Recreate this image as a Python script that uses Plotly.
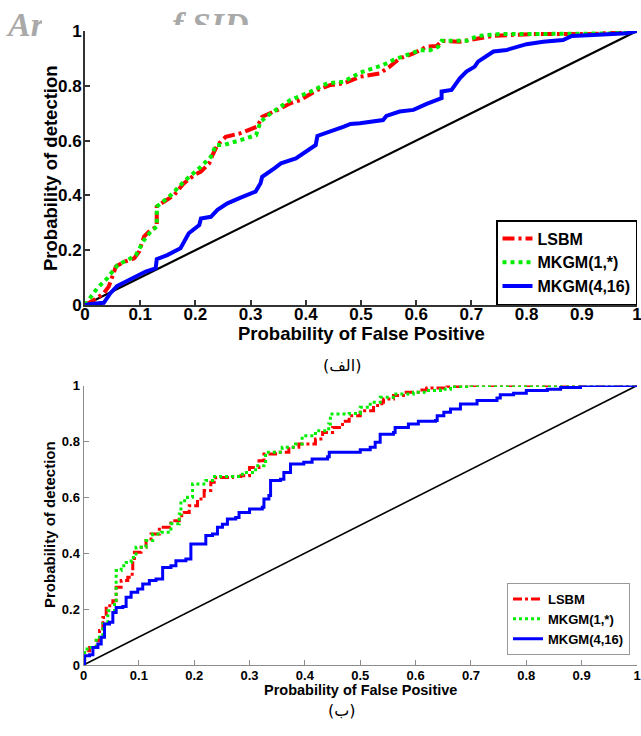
import plotly.graph_objects as go

# ---------------- data ----------------
x_ticks = [0, 0.1, 0.2, 0.3, 0.4, 0.5, 0.6, 0.7, 0.8, 0.9, 1.0]
x_tick_text = ["0", "0.1", "0.2", "0.3", "0.4", "0.5", "0.6", "0.7", "0.8", "0.9", "1"]
y_ticks = [0, 0.2, 0.4, 0.6, 0.8, 1.0]
y_tick_text = ["0", "0.2", "0.4", "0.6", "0.8", "1"]

series_names = ["LSBM", "MKGM(1,*)", "MKGM(4,16)"]
chance_x = [0, 1]
chance_y = [0, 1]

# Panel (الف)
a_lsbm_x = [0, .016, .034, .043, .056, .071, .089, .098, .107, .119, .130, .130, .143, .161, .179, .198,
            .21, .225, .231, .240, .255, .282, .312, .321, .349, .372, .390, .421, .445, .469, .498,
            .534, .552, .570, .595, .619, .637, .646, .679, .709, .74, .776, .812, .86, .921, .957, 1.0]
a_lsbm_y = [0, .018, .043, .067, .14, .158, .17, .195, .25, .274, .286, .359, .377, .40, .444, .474,
            .487, .517, .547, .584, .614, .627, .651, .687, .712, .736, .748, .785, .803, .809, .833,
            .845, .870, .90, .918, .943, .945, .964, .961, .97, .982, .986, .989, .989, .989, .994, 1.0]

a_mk1_x = [0, .010, .022, .040, .059, .077, .092, .107, .119, .130, .130, .155, .179, .210, .228, .237,
           .252, .282, .310, .318, .337, .372, .409, .439, .469, .498, .540, .558, .589, .607, .625,
           .640, .646, .691, .712, .752, .80, .872, .957, 1.0]
a_mk1_y = [0, .03, .061, .097, .146, .164, .182, .237, .268, .286, .359, .40, .45, .505, .541, .584,
           .584, .602, .620, .669, .70, .748, .779, .809, .815, .848, .876, .894, .918, .93, .93,
           .943, .964, .964, .982, .989, .989, .989, .991, 1.0]

a_mk4_x = [0, .01, .034, .046, .058, .089, .110, .128, .130, .149, .173, .188, .207, .210, .228, .240,
           .258, .282, .309, .318, .321, .343, .355, .382, .409, .418, .421, .445, .469, .481, .498,
           .540, .546, .570, .595, .619, .646, .646, .664, .679, .691, .706, .712, .74, .764, .80,
           .830, .866, .882, .921, .951, .981, 1.0]
a_mk4_y = [0, .004, .008, .043, .069, .103, .122, .134, .167, .182, .207, .262, .292, .316, .322, .347,
           .371, .392, .414, .444, .468, .499, .517, .535, .572, .584, .617, .633, .651, .661, .663,
           .675, .690, .706, .712, .734, .755, .779, .785, .827, .852, .870, .888, .925, .931, .952,
           .961, .967, .982, .985, .987, .992, 1.0]

# Panel (ب)
b_lsbm_x = [0, .002, .011, .023, .029, .035, .041, .053, .059, .068, .080, .088, .089, .092, .104, .113,
            .122, .137, .158, .173, .182, .191, .206, .218, .230, .239, .269, .284, .30, .317, .326,
            .347, .371, .389, .407, .419, .432, .45, .468, .48, .50, .524, .539, .542, .56, .578,
            .605, .62, .657, .70, 1.0]
b_lsbm_y = [0, .051, .063, .087, .123, .17, .212, .23, .278, .302, .314, .338, .373, .403, .421, .445,
            .469, .493, .516, .534, .546, .57, .594, .624, .654, .671, .674, .677, .707, .731, .755,
            .761, .779, .791, .791, .809, .832, .85, .872, .892, .91, .928, .94, .952, .964, .976,
            .984, .991, .996, 1.0, 1.0]

b_mk1_x = [0, .002, .011, .023, .035, .044, .056, .059, .068, .077, .086, .095, .113, .125, .140, .155,
           .158, .173, .176, .188, .197, .221, .233, .281, .287, .311, .326, .329, .359, .383, .395,
           .419, .443, .446, .48, .50, .518, .536, .56, .596, .62, .645, .663, .70, 1.0]
b_mk1_y = [0, .057, .063, .099, .147, .194, .224, .338, .355, .367, .385, .421, .445, .469, .475, .475,
           .505, .54, .588, .60, .648, .66, .674, .674, .689, .713, .719, .761, .779, .791, .82,
           .838, .862, .898, .90, .922, .94, .958, .97, .976, .982, .987, .996, 1.0, 1.0]

b_mk4_x = [0, .002, .011, .017, .026, .032, .038, .047, .053, .059, .071, .077, .086, .098, .107, .119,
           .131, .143, .158, .167, .185, .194, .212, .221, .233, .242, .251, .260, .275, .281, .30,
           .323, .326, .335, .338, .356, .362, .374, .398, .413, .441, .444, .48, .50, .518, .527,
           .536, .56, .563, .587, .605, .636, .639, .651, .663, .681, .711, .747, .753, .777, .80,
           .838, .862, .898, 1.0]
b_mk4_y = [0, .033, .037, .063, .075, .099, .147, .153, .188, .206, .209, .242, .26, .272, .29, .302,
           .308, .349, .355, .373, .379, .433, .433, .463, .469, .493, .504, .522, .528, .546, .558,
           .564, .594, .606, .66, .665, .689, .719, .725, .737, .745, .761, .761, .770, .779, .797,
           .826, .832, .85, .862, .872, .875, .892, .904, .916, .934, .946, .955, .967, .972, .982,
           .987, .993, 1.0, 1.0]

panel_labels = ["(الف)", "(ب)"]
x_title = "Probability of False Positive"
y_title = "Probability of detection"
watermark_parts = ["Ar", "f SID"]

# ---------------- figure ----------------
W, H = 641, 736
FONT = "Liberation Sans, Arial, sans-serif"
RED, GREEN, BLUE = "#ff0000", "#00ee00", "#0000ff"


def px_x(p):
    return p / W


def px_y(p):
    return 1 - p / H


fig = go.Figure()

top_sets = [(a_lsbm_x, a_lsbm_y, RED, "12px,4px,3px,4px"),
            (a_mk1_x, a_mk1_y, GREEN, "dot"),
            (a_mk4_x, a_mk4_y, BLUE, "solid")]
bot_sets = [(b_lsbm_x, b_lsbm_y, RED, "9px,3px,3px,3px"),
            (b_mk1_x, b_mk1_y, GREEN, "dot"),
            (b_mk4_x, b_mk4_y, BLUE, "solid")]

# panel (الف)
fig.add_trace(go.Scatter(x=chance_x, y=chance_y, mode="lines", xaxis="x", yaxis="y",
                         line=dict(color="black", width=2.2), showlegend=False, hoverinfo="skip"))
for name, (xs, ys, col, dash) in zip(series_names, top_sets):
    fig.add_trace(go.Scatter(x=xs, y=ys, mode="lines", name=name, xaxis="x", yaxis="y",
                             legend="legend",
                             line=dict(color=col, width=4, dash=dash)))

# panel (ب)
fig.add_trace(go.Scatter(x=chance_x, y=chance_y, mode="lines", xaxis="x2", yaxis="y2",
                         line=dict(color="black", width=1.6), showlegend=False, hoverinfo="skip"))
for name, (xs, ys, col, dash) in zip(series_names, bot_sets):
    fig.add_trace(go.Scatter(x=xs, y=ys, mode="lines", name=name, xaxis="x2", yaxis="y2",
                             legend="legend2",
                             line=dict(color=col, width=3, dash=dash, shape="hv")))


def axis(domain, ticks, ticktext, anchor, fsize, lcol, lw, standoff):
    return dict(domain=domain, range=[0, 1], tickvals=ticks, ticktext=ticktext,
                ticks="inside", ticklen=5, tickwidth=lw, tickcolor=lcol,
                showline=True, linecolor=lcol, linewidth=lw, mirror=False,
                showgrid=False, zeroline=False, automargin=False, anchor=anchor,
                fixedrange=True, ticklabelstandoff=standoff, ticklabeloverflow="allow",
                tickfont=dict(family=FONT, size=fsize, color="black", weight="bold"))


fig.update_layout(
    width=W, height=H,
    margin=dict(l=0, r=0, t=0, b=0),
    paper_bgcolor="white", plot_bgcolor="white",
    xaxis=axis([px_x(85), px_x(637)], x_ticks, x_tick_text, "y", 17, "#333333", 2, -7),
    yaxis=axis([px_y(305), px_y(31)], y_ticks, y_tick_text, "x", 17, "#333333", 2, -2),
    xaxis2=axis([px_x(83.5), px_x(637)], x_ticks, x_tick_text, "y2", 13, "#8c8c8c", 1, -2),
    yaxis2=axis([px_y(665), px_y(385.5)], y_ticks, y_tick_text, "x2", 13, "#8c8c8c", 1, 0),
    legend=dict(x=px_x(637), y=px_y(305), xanchor="right", yanchor="bottom",
                bgcolor="white", bordercolor="black", borderwidth=1.5,
                font=dict(family=FONT, size=16, color="black", weight="bold"),
                itemwidth=30, tracegroupgap=0),
    legend2=dict(x=px_x(630), y=px_y(655), xanchor="right", yanchor="bottom",
                 bgcolor="white", bordercolor="#999999", borderwidth=1,
                 font=dict(family=FONT, size=13, color="black", weight="bold"),
                 itemwidth=30, tracegroupgap=0),
    showlegend=True,
)


def title_ann(text, x, y, size, angle=0):
    return dict(text=text, x=px_x(x), y=px_y(y), xref="paper", yref="paper",
                xanchor="center", yanchor="middle", showarrow=False, textangle=angle,
                font=dict(family=FONT, size=size, color="black", weight="bold"))


def cover(x0, y0, w, h):
    return dict(text=" ", x=px_x(x0), y=px_y(y0), xref="paper", yref="paper",
                xanchor="left", yanchor="top", showarrow=False, width=w, height=h,
                bgcolor="white", borderpad=0, borderwidth=0)


WM_FONT = dict(family="Liberation Serif", size=34, color="#a9a9a9", style="italic", weight="bold")

annotations = [
    title_ann(x_title, 361, 333, 18.5),
    title_ann(y_title, 50, 168, 18.5, -90),
    title_ann(x_title, 360, 690, 14.5),
    title_ann(y_title, 49, 525, 15, -90),
    dict(text=panel_labels[0], x=px_x(342), y=px_y(365), xref="paper", yref="paper",
         showarrow=False, font=dict(family="DejaVu Sans", size=16, color="black")),
    dict(text=panel_labels[1], x=px_x(342), y=px_y(722), xref="paper", yref="paper",
         showarrow=False, font=dict(family="DejaVu Sans", size=16, color="black")),
    dict(text=watermark_parts[0], x=px_x(4), y=px_y(4), xref="paper", yref="paper",
         xanchor="left", yanchor="top", showarrow=False, font=WM_FONT),
    dict(text=watermark_parts[1], x=px_x(170), y=px_y(4), xref="paper", yref="paper",
         xanchor="left", yanchor="top", showarrow=False, font=WM_FONT),
    cover(42, 0, 26, 44),
    cover(160, 25, 120, 32),
]
fig.update_layout(annotations=annotations)

fig.write_html(
    "out.html",
    config={"displayModeBar": False},
    post_script="document.body.style.margin='0';document.body.style.overflow='hidden';",
)
